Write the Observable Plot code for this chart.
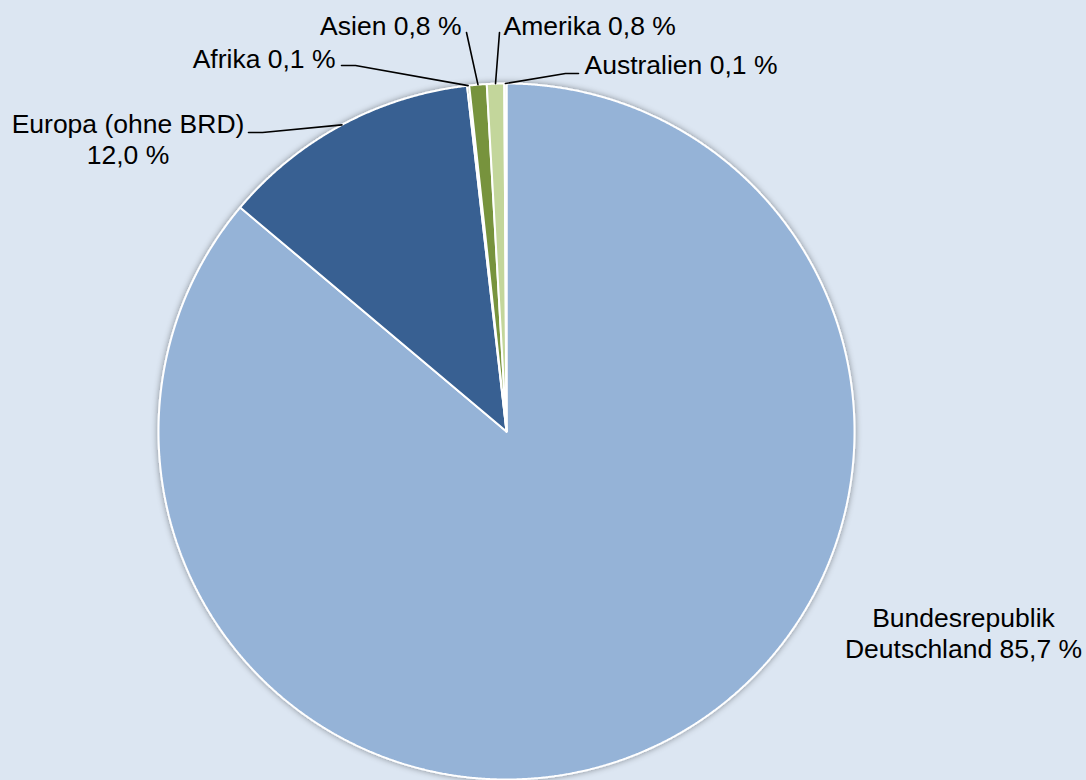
<!DOCTYPE html>
<html><head><meta charset="utf-8">
<script src="https://cdn.jsdelivr.net/npm/d3@7"></script>
<script src="https://cdn.jsdelivr.net/npm/@observablehq/plot@0.6"></script>
<style>
body{margin:0;background:#DCE6F2;}
#chart svg{display:block;background:#DCE6F2;}
</style>
</head><body><div id="chart"></div>
<script>
// ---- data ----
const regions = ["Bundesrepublik Deutschland", "Europa (ohne BRD)", "Afrika", "Asien", "Amerika", "Australien"];
const shares = [85.7, 12.0, 0.1, 0.8, 0.8, 0.1];

// ---- styles / layout ----
const palette = ["#95B3D7", "#376092", "#4F6228", "#77933C", "#C3D69B", "#D7E4BD"];
const W = 1086, H = 780, cx = 506, cy = 431, R = 348;
const ux = px => (px - cx) / R, uy = py => (cy - py) / R;
// label anchor (px), anchor type, line wrap, leader elbow points (px)
const labelLayout = [
  {x: 963, y: 657, anchor: "middle", wrap: "name", leader: []},
  {x: 127.5, y: 163, anchor: "middle", wrap: "value", leader: [[248, 132], [262, 132]]},
  {x: 335, y: 67, anchor: "end", wrap: null, leader: [[341, 65], [355, 65]]},
  {x: 461, y: 34, anchor: "end", wrap: null, leader: [[466, 32]]},
  {x: 503, y: 34, anchor: "start", wrap: null, leader: [[499, 32]]},
  {x: 584, y: 73, anchor: "start", wrap: null, leader: [[578, 73], [565, 73]]}
];

const fmt = v => v.toFixed(1).replace(".", ",") + " %";
const arcs = d3.pie().sort(null).value(d => d)(shares);

// slice polygons
const slicePts = [];
arcs.forEach((a, i) => {
  const name = regions[i];
  slicePts.push({name, x: 0, y: 0});
  const step = Math.PI / 900;
  const n = Math.max(2, Math.ceil((a.endAngle - a.startAngle) / step));
  for (let k = 0; k <= n; k++) {
    const t = a.startAngle + (a.endAngle - a.startAngle) * k / n;
    slicePts.push({name, x: Math.sin(t), y: Math.cos(t)});
  }
  slicePts.push({name, x: 0, y: 0});
});

// leader lines
const leaderPts = [];
arcs.forEach((a, i) => {
  const L = labelLayout[i];
  if (!L.leader.length) return;
  const m = (a.startAngle + a.endAngle) / 2;
  leaderPts.push({name: regions[i], x: Math.sin(m), y: Math.cos(m)});
  L.leader.slice().reverse().forEach(p => leaderPts.push({name: regions[i], x: ux(p[0]), y: uy(p[1])}));
});

// labels
const labels = regions.map((r, i) => {
  const L = labelLayout[i];
  let text;
  if (L.wrap === "name") {
    const sp = r.indexOf(" ");
    text = r.slice(0, sp) + "\n" + r.slice(sp + 1) + " " + fmt(shares[i]);
  } else if (L.wrap === "value") {
    text = r + "\n" + fmt(shares[i]);
  } else {
    text = r + " " + fmt(shares[i]);
  }
  return {name: r, text, x: ux(L.x), y: uy(L.y), anchor: L.anchor};
});

const textOpts = anchor => ({
  x: "x", y: "y", text: "text", textAnchor: anchor, lineAnchor: "bottom",
  lineHeight: 1.17, fontSize: 26.5, fill: "#000",
  fontFamily: "'Liberation Sans', Arial, sans-serif"
});

const chart = Plot.plot({
  width: W, height: H,
  margin: 0,
  style: {background: "#DCE6F2"},
  x: {domain: [-1, 1], range: [cx - R, cx + R], axis: null},
  y: {domain: [-1, 1], range: [cy + R, cy - R], axis: null},
  color: {domain: regions, range: palette},
  marks: [
    Plot.line(slicePts, {x: "x", y: "y", z: "name", fill: "name", stroke: "white", strokeWidth: 2, strokeLinejoin: "miter", curve: "linear"}),
    Plot.line(leaderPts, {x: "x", y: "y", z: "name", stroke: "#000", strokeWidth: 1.6, curve: "linear"}),
    Plot.text(labels.filter(d => d.anchor === "middle"), textOpts("middle")),
    Plot.text(labels.filter(d => d.anchor === "start"), textOpts("start")),
    Plot.text(labels.filter(d => d.anchor === "end"), textOpts("end"))
  ]
});

// soft shadow around the pie
const ns = "http://www.w3.org/2000/svg";
const defs = document.createElementNS(ns, "defs");
defs.innerHTML = '<filter id="pieShadow" x="-10%" y="-10%" width="120%" height="120%"><feDropShadow dx="0" dy="0" stdDeviation="3" flood-color="#000" flood-opacity="0.4"/></filter>';
chart.insertBefore(defs, chart.firstChild);
const g = chart.querySelector('g[aria-label="line"]');
if (g) g.setAttribute("filter", "url(#pieShadow)");

document.getElementById("chart").appendChild(chart);
</script>
</body></html>
